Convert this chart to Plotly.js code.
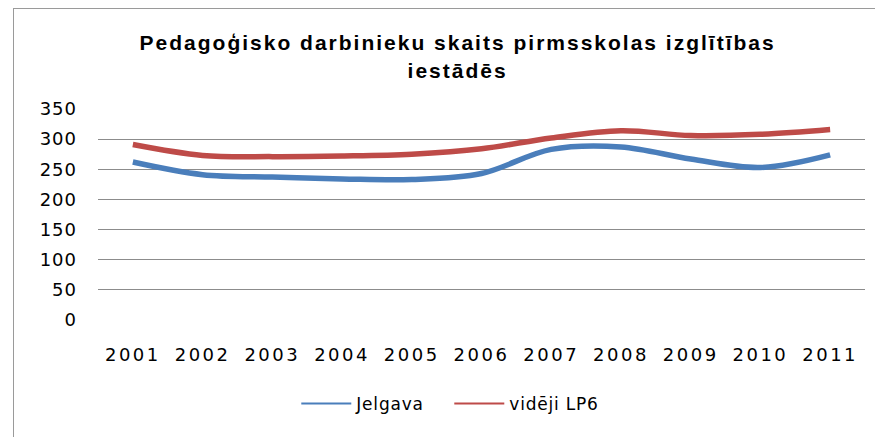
<!DOCTYPE html>
<html>
<head>
<meta charset="utf-8">
<script src="https://cdn.plot.ly/plotly-3.0.1.min.js"></script>
<style>
html,body{margin:0;padding:0;background:#fff;}
#wrap{position:relative;width:875px;height:437px;}
#border{position:absolute;left:13px;top:8px;width:870px;height:440px;border-left:1px solid #9a9a9a;border-top:1px solid #9a9a9a;box-sizing:border-box;pointer-events:none;}
#chart{position:absolute;left:0;top:0;width:875px;height:437px;}
.gtitle{letter-spacing:2px;}
.xtick text{letter-spacing:2.5px;}
.ytick text{letter-spacing:1px;}
.legendtext{letter-spacing:0.8px;}
.legend .legendlines path{stroke-width:2px !important;}
</style>
</head>
<body>
<div id="wrap"><div id="chart"></div><div id="border"></div></div>
<script>
const years = ['2001','2002','2003','2004','2005','2006','2007','2008','2009','2010','2011'];
const jelgava = [262, 241, 237, 234, 233, 243, 283, 287, 267, 253, 274];
const videjiLP6 = [291, 273, 271, 272, 275, 284, 302, 314, 306, 308, 316];
const yTicks = [0, 50, 100, 150, 200, 250, 300, 350];

const tickFont = 'DejaVu Sans, Verdana, sans-serif';
const titleFont = 'Liberation Sans, Arial, sans-serif';
const traces = [
  {x: years, y: jelgava, name: 'Jelgava', type: 'scatter', mode: 'lines',
   line: {color: '#4a7ebb', width: 5.5, shape: 'spline', smoothing: 1}},
  {x: years, y: videjiLP6, name: 'vidēji LP6', type: 'scatter', mode: 'lines',
   line: {color: '#be4b48', width: 5.5, shape: 'spline', smoothing: 1}}
];
const layout = {
  width: 875, height: 437,
  margin: {l: 98, r: 10, t: 109, b: 117},
  paper_bgcolor: 'rgba(0,0,0,0)', plot_bgcolor: '#fff',
  font: {family: tickFont, color: '#000', size: 15},
  title: {text: 'Pedagoģisko darbinieku skaits pirmsskolas izglītības<br>iestādēs',
          x: 0.523, xanchor: 'center', y: 0.885, yanchor: 'top',
          font: {family: titleFont, size: 21, color: '#000', weight: 'bold'}},
  xaxis: {type: 'category', tickvals: years, ticktext: years, range: [-0.5, 10.5],
          showgrid: false, showline: false, ticks: '', ticklen: 0, ticklabelstandoff: 22,
          tickfont: {family: tickFont, size: 18, color: '#000'}, automargin: false, fixedrange: true},
  yaxis: {range: [0, 350], tickvals: yTicks, showgrid: true, gridcolor: '#8c8c8c', gridwidth: 1,
          zeroline: false, showline: false, ticks: '', ticklabelstandoff: 20,
          tickfont: {family: tickFont, size: 18, color: '#000'}, automargin: false},
  legend: {orientation: 'h', x: 0.458, xanchor: 'center', y: -0.398, yanchor: 'middle',
           font: {family: tickFont, size: 17, color: '#000'}, itemwidth: 50,
           entrywidth: 88, entrywidthmode: 'pixels', bgcolor: 'rgba(0,0,0,0)'},
  showlegend: true
};
Plotly.newPlot('chart', traces, layout, {displayModeBar: false, staticPlot: true});
</script>
</body>
</html>
